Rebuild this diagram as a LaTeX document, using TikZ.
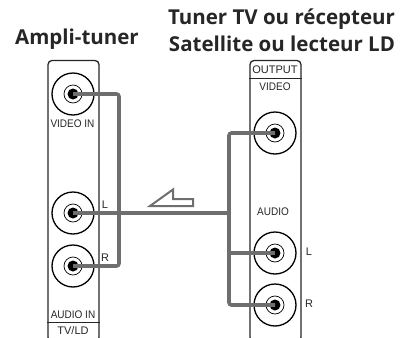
\documentclass[tikz,border=0pt]{standalone}
\usepackage{fontspec}
\setmainfont{Liberation Sans}
\newfontfamily\titlefont{Open Sans}
\newfontfamily\narrowfont[FakeStretch=0.91]{Liberation Sans}
\usepackage{xcolor}
\usepackage{tikz}
\usetikzlibrary{arrows.meta,positioning,calc}
\definecolor{cablegray}{HTML}{6E6E6E}
\tikzset{
  panelbox/.style={draw=black!85, line width=1.3pt, rounded corners=4pt, minimum width=51pt, inner sep=0pt},
  jackbox/.style={circle, draw=black, line width=1.3pt, minimum size=42pt, inner sep=0pt},
  ringbox/.style={circle, draw=black, line width=0.7pt, minimum size=18pt, inner sep=0pt},
  corebox/.style={circle, fill=black, minimum size=11pt, inner sep=0pt},
  cable/.style={draw=cablegray, line width=3.6pt, rounded corners=2.5pt},
  tag/.style={font=\fontsize{11}{11}\selectfont, text=black!85, inner sep=0pt},
  narrowtag/.style={tag, font=\narrowfont\fontsize{11}{11}\selectfont},
  heading/.style={font=\titlefont\bfseries\fontsize{20.5}{20.5}\selectfont, text=black!85, inner sep=0pt},
}

\begin{document}
\begin{tikzpicture}[x=1pt, y=-1pt]
  \useasboundingbox (0,0) rectangle (400,338);

  % Headings
  \node[heading] (ampli) at (77,39) {Ampli-tuner};
  \node[heading] (tuner) at (281.5,19) {Tuner TV ou récepteur};
  \node[heading] (sat) at (282,44) {Satellite ou lecteur LD};

  % Panels
  \node[panelbox, minimum height=281pt] (left) at (73.5,201) {};
  \node[panelbox, minimum height=281pt] (right) at (275.5,201) {};
  \draw[line width=1pt, draw=black!85] (left.west |- 0,322) coordinate (lsplit) -- (left.east |- 0,322) coordinate (lsplitend);
  \draw[line width=1pt, draw=black!85] (right.west |- 0,78) coordinate (rsplit) -- (right.east |- 0,78) coordinate (rsplitend);

  % Jacks
  \foreach \name/\px/\py in {videoin/73/94, audiol/73/213, audior/73/266,
                             videoout/275/133, outl/275/253, outr/275/305} {
    \node[jackbox] (\name) at (\px,\py) {};
    \node[ringbox] (\name ring) at (\name) {};
    \node[corebox] (\name core) at (\name) {};
  }

  % Panel labels
  \node[narrowtag] (lblvideoin) at (72.5,124) {VIDEO IN};
  \node[narrowtag] (lblaudioin) at (73,315) {AUDIO IN};
  \node[tag] (lbltv) at (73,331) {TV/LD};
  \node[tag] (lbll) at (105,205) {L};
  \node[tag] (lblr) at (105,258) {R};
  \node[tag] (lbloutput) at (275,70) {OUTPUT};
  \node[narrowtag] (lblvideo) at (275,87) {VIDEO};
  \node[narrowtag] (lblaudio) at (273,212) {AUDIO};
  \node[tag] (lbloutl) at (309,252) {L};
  \node[tag] (lbloutr) at (309,304) {R};

  % Cables
  \coordinate (leftbus) at (119,0);
  \coordinate (rightbus) at (229,0);
  \draw[cable] (videoin.center) -- (videoin.center -| leftbus) -- (audior.center -| leftbus) -- (audior.center);
  \draw[cable] (videoout.center) -- (videoout.center -| rightbus) -- (outr.center -| rightbus) -- (outr.center);
  \draw[cable] (audiol.center) -- (audiol.center -| rightbus);
  \draw[cable] (outl.center -| rightbus) -- (outl.center);

  % Direction arrow
  \draw[draw=cablegray, line width=2pt, line join=miter]
    (150,206) -- (173,189.5) -- (173,199) -- (193,199) -- (193,206) -- cycle;
\end{tikzpicture}
\end{document}
